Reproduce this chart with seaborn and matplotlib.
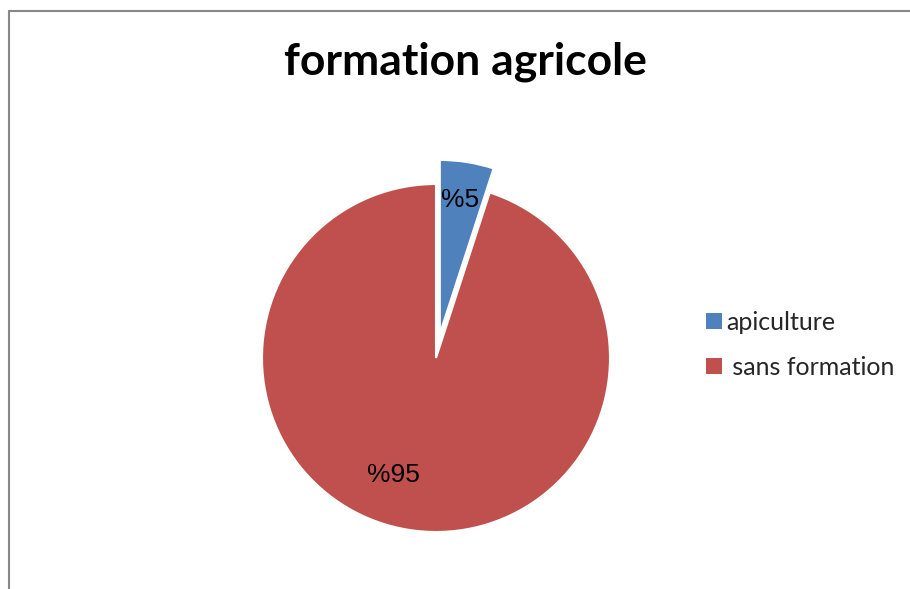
import matplotlib
matplotlib.use("Agg")
import matplotlib.pyplot as plt
from matplotlib.lines import Line2D
from matplotlib.patches import Patch
import seaborn as sns

# Data
categories = ["apiculture", " sans formation"]
shares = [5, 95]
pct_labels = ["%5", "%95"]
title = "formation agricole"

sns.set_theme(style="white")
plt.rcParams["font.family"] = ["Lato", "DejaVu Sans"]

colors = ["#4F81BD", "#C0504D"]

W, H = 910, 589
fig = plt.figure(figsize=(W / 100, H / 100), dpi=100)
fig.patch.set_facecolor("white")

# pie centre and radius in pixels
cx, cy, r = 436, 358, 174
lim = 1.25
side = 2 * lim * r
ax = fig.add_axes([(cx - side / 2) / W, (H - cy - side / 2) / H, side / W, side / H])

wedges, _ = ax.pie(
    shares,
    colors=colors,
    startangle=90,
    counterclock=False,
    explode=[0.14, 0.0],
    wedgeprops=dict(edgecolor="white", linewidth=1.5),
)
ax.set_xlim(-lim, lim)
ax.set_ylim(-lim, lim)
ax.set_aspect("equal")
ax.axis("off")

# percentage labels
label_pos = [(0.14, 0.91), (-0.247, -0.67)]
for txt, (x, y) in zip(pct_labels, label_pos):
    ax.text(x, y, txt, ha="center", va="center", fontsize=19,
            family=["Liberation Sans", "DejaVu Sans"], color="black")

fig.text(465 / W, 1 - 62 / H, title, ha="center", va="center",
         fontsize=32, fontweight="bold", color="black")

handles = [Patch(facecolor=c, edgecolor="none") for c in colors]
fig.legend(handles, categories, loc="upper left",
           bbox_to_anchor=(696 / W, 1 - 301 / H), frameon=False,
           fontsize=18, handlelength=0.62, handleheight=0.62,
           handletextpad=0.2, labelspacing=0.88, borderaxespad=0)

# chart frame (left and top edges)
grey = "#888888"
fig.add_artist(Line2D([8.5 / W, 8.5 / W], [0, 1 - 10.5 / H], color=grey, lw=1.5,
                      transform=fig.transFigure))
fig.add_artist(Line2D([8.5 / W, 1], [1 - 10.5 / H, 1 - 10.5 / H], color=grey, lw=1.5,
                      transform=fig.transFigure))

fig.savefig("out.png", dpi=100, facecolor="white")
